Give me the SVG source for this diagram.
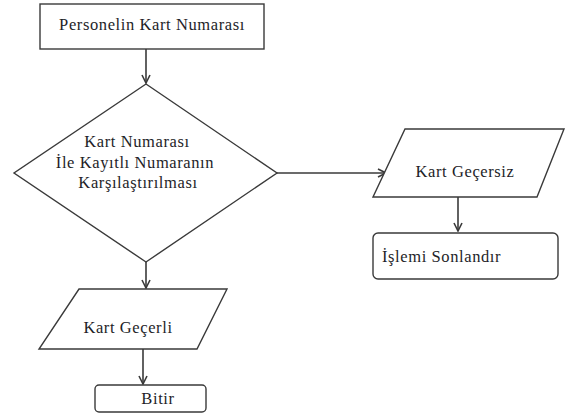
<svg xmlns="http://www.w3.org/2000/svg" width="566" height="416" viewBox="0 0 566 416">
  <style>
    .shape { fill: #ffffff; stroke: #3a3a3a; stroke-width: 1.4; }
    .edge { fill: none; stroke: #3a3a3a; stroke-width: 1.6; }
    .label { font-family: "Liberation Serif", "Times New Roman", serif; font-size: 16.5px; letter-spacing: 0.6px; fill: #1e1e28; }
  </style>
  <defs>
    <marker id="arrow" viewBox="0 0 10 10" refX="9" refY="5" markerWidth="10" markerHeight="10" markerUnits="userSpaceOnUse" orient="auto">
      <path d="M1,1 L9,5 L1,9" fill="none" stroke="#3a3a3a" stroke-width="1.6"/>
    </marker>
  </defs>
  <rect width="566" height="416" fill="#ffffff"/>

  <g id="connectors">
    <line class="edge" x1="146" y1="49" x2="146" y2="83" marker-end="url(#arrow)"/>
    <line class="edge" x1="277" y1="173" x2="386" y2="173" marker-end="url(#arrow)"/>
    <line class="edge" x1="458" y1="197" x2="458" y2="231" marker-end="url(#arrow)"/>
    <line class="edge" x1="146" y1="262" x2="146" y2="288" marker-end="url(#arrow)"/>
    <line class="edge" x1="143" y1="349" x2="143" y2="384" marker-end="url(#arrow)"/>
  </g>

  <g id="start">
    <rect class="shape" x="40" y="4" width="224" height="45"/>
    <text class="label" x="152" y="30" text-anchor="middle">Personelin Kart Numarası</text>
  </g>

  <g id="compare">
    <polygon class="shape" points="146,84 277,173 146,262 14,173"/>
    <text class="label" x="137" y="147" text-anchor="middle">Kart Numarası</text>
    <text class="label" x="135" y="168" text-anchor="middle">İle Kayıtlı Numaranın</text>
    <text class="label" x="138" y="188" text-anchor="middle">Karşılaştırılması</text>
  </g>

  <g id="invalid">
    <polygon class="shape" points="405,129 564,129 537,197 373,197"/>
    <text class="label" x="465" y="177" text-anchor="middle">Kart Geçersiz</text>
  </g>

  <g id="terminate">
    <rect class="shape" x="373" y="233" width="185" height="46" rx="5" ry="5"/>
    <text class="label" x="382" y="262">İşlemi Sonlandır</text>
  </g>

  <g id="valid">
    <polygon class="shape" points="79,289 227,289 197,349 39,349"/>
    <text class="label" x="128" y="333" text-anchor="middle">Kart Geçerli</text>
  </g>

  <g id="end">
    <rect class="shape" x="95" y="385" width="111" height="27" rx="4" ry="4"/>
    <text class="label" x="158" y="404" text-anchor="middle">Bitir</text>
  </g>
</svg>
